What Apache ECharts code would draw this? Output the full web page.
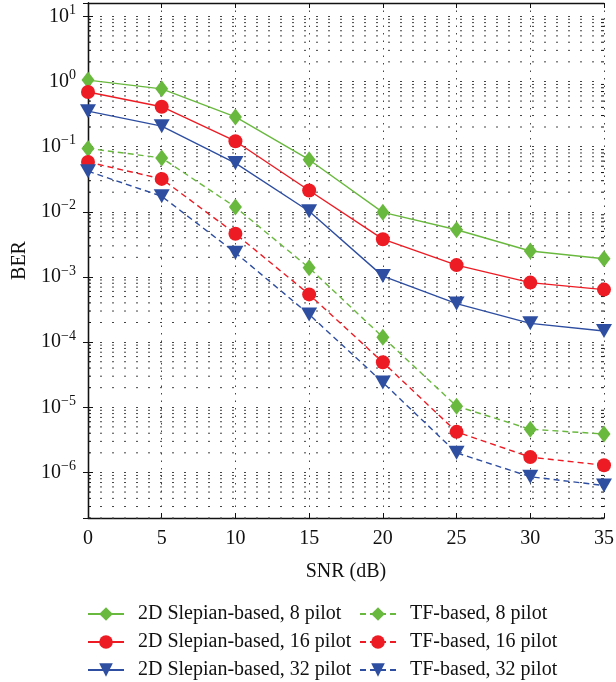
<!DOCTYPE html>
<html>
<head>
<meta charset="utf-8">
<script src="https://cdn.jsdelivr.net/npm/echarts@6/dist/echarts.min.js"></script>
<style>
  html, body { margin: 0; padding: 0; background: #fff; }
  #berChart { width: 616px; height: 682px; }
</style>
</head>
<body>
<div id="berChart"></div>
<script>
  // SNR values (dB)
  const snr = [0, 5, 10, 15, 20, 25, 30, 35];

  // BER
  const slepian8 = [1.05, 0.77, 0.286, 0.063, 0.0098, 0.0053, 0.0025, 0.0019];
  const slepian16 = [0.69, 0.41, 0.121, 0.0212, 0.0038, 0.00152, 0.00082, 0.00064];
  const slepian32 = [0.35, 0.206, 0.056, 0.0102, 0.00103, 0.00039, 0.000194, 0.000148];
  const tf8 = [0.094, 0.067, 0.0118, 0.00138, 0.000119, 1.04e-5, 4.6e-6, 3.9e-6];
  const tf16 = [0.058, 0.032, 0.0046, 0.00054, 4.9e-5, 4.2e-6, 1.72e-6, 1.29e-6];
  const tf32 = [0.042, 0.0173, 0.00235, 0.000266, 2.4e-5, 2.0e-6, 8.6e-7, 6.3e-7];

  const xTicks = [0, 5, 10, 15, 20, 25, 30, 35];
  const yMin = 2e-7, yMax = 16;

  const green = '#6ab93f', red = '#ed1c24', blue = '#2e4ea1';
  const font = '"Liberation Serif", "DejaVu Serif", serif';

  // minor log grid values 2..9 x 10^e inside the axis range
  let minorVals = [];
  for (let e = -7; e <= 1; e++) {
    for (let m = 2; m <= 9; m++) {
      const v = m * Math.pow(10, e);
      if (v >= yMin * 0.999 && v <= yMax) minorVals.push([0, v]);
    }
  }

  function pair(arr) {
    return snr.map((x, i) => [x, arr[i]]);
  }

  function mkLine(name, data, color, symbol, size, dashed) {
    return {
      name: name,
      type: 'line',
      data: pair(data),
      symbol: symbol,
      symbolSize: size,
      symbolRotate: symbol === 'triangle' ? 180 : 0,
      z: 5,
      lineStyle: { color: color, width: 1.4, type: dashed ? [6, 4] : 'solid' },
      itemStyle: { color: color, borderWidth: 0 }
    };
  }

  const legendBase = {
    orient: 'vertical', bottom: 2, padding: 0,
    itemWidth: 36, itemHeight: 17, itemGap: 8,
    textStyle: { fontFamily: font, fontSize: 20, color: '#111', padding: [0, 0, 0, 9] }
  };

  const chart = echarts.init(document.getElementById('berChart'));

  const option = {
    animation: false,
    textStyle: { fontFamily: font },
    grid: { left: 88, right: 12, top: 3, bottom: 164, outerBoundsMode: 'none', containLabel: false },
    legend: [Object.assign({}, legendBase, {
      left: 87,
      data: ['2D Slepian-based, 8 pilot', '2D Slepian-based, 16 pilot', '2D Slepian-based, 32 pilot']
    }), Object.assign({}, legendBase, {
      left: 359,
      data: ['TF-based, 8 pilot', 'TF-based, 16 pilot', 'TF-based, 32 pilot']
    })],
    xAxis: [{
      type: 'value', min: 0, max: 35, interval: 5,
      name: 'SNR (dB)', nameLocation: 'middle', nameGap: 44,
      nameTextStyle: { fontFamily: font, fontSize: 20, color: '#111' },
      axisLine: { lineStyle: { color: '#111', width: 1.3 } },
      axisTick: { inside: true, length: 5, lineStyle: { color: '#111' } },
      axisLabel: { fontFamily: font, fontSize: 20, color: '#111', margin: 11 },
      splitLine: { show: true, lineStyle: { color: '#444', type: [1.5, 6], width: 1 } }
    }, {
      type: 'value', min: 0, max: 35, interval: 5, position: 'top',
      axisLine: { lineStyle: { color: '#111', width: 1.3 } },
      axisTick: { inside: true, length: 5, lineStyle: { color: '#111' } },
      axisLabel: { show: false }, splitLine: { show: false }
    }],
    yAxis: [{
      type: 'log', logBase: 10, min: yMin, max: yMax,
      name: 'BER', nameLocation: 'middle', nameGap: 58,
      nameTextStyle: { fontFamily: font, fontSize: 20, color: '#111' },
      axisLine: { show: true, lineStyle: { color: '#111', width: 1.3 } },
      axisTick: { show: true, inside: true, length: 5, lineStyle: { color: '#111' } },
      axisLabel: {
        showMinLabel: false, showMaxLabel: false, margin: 12,
        fontFamily: font, fontSize: 20, color: '#111',
        formatter: function (v) {
          const e = Math.log10(v);
          if (Math.abs(e - Math.round(e)) > 1e-6) return '';
          const r = Math.round(e);
          return '10{sup|' + (r < 0 ? '\u2212' + (-r) : r) + '}';
        },
        rich: { sup: { fontFamily: font, fontSize: 14, verticalAlign: 'top', padding: [0, 0, 12, 0], color: '#111' } }
      },
      splitLine: { show: true, lineStyle: { color: '#444', type: [2, 10], width: 1 } }
    }, {
      type: 'log', logBase: 10, min: yMin, max: yMax, position: 'right',
      axisLine: { show: true, lineStyle: { color: '#111', width: 1.3 } },
      axisTick: { show: true, inside: true, length: 5, lineStyle: { color: '#111' } },
      axisLabel: { show: false }, splitLine: { show: false }
    }],
    series: [
      {
        name: 'minorGrid',
        type: 'custom',
        silent: true,
        z: 1,
        data: minorVals,
        renderItem: function (params, api) {
          const v = api.value(1);
          const p0 = api.coord([0, v]);
          const p1 = api.coord([35, v]);
          return {
            type: 'group',
            children: [{
              type: 'line',
              shape: { x1: p0[0], y1: p0[1], x2: p1[0], y2: p1[1] },
              style: { stroke: '#444', lineWidth: 1, lineDash: [2, 10] }
            }, {
              type: 'line',
              shape: { x1: p0[0], y1: p0[1], x2: p0[0] + 3, y2: p0[1] },
              style: { stroke: '#111', lineWidth: 1 }
            }, {
              type: 'line',
              shape: { x1: p1[0], y1: p1[1], x2: p1[0] - 3, y2: p1[1] },
              style: { stroke: '#111', lineWidth: 1 }
            }]
          };
        }
      },
      mkLine('2D Slepian-based, 8 pilot', slepian8, green, 'diamond', [13, 17], false),
      mkLine('2D Slepian-based, 16 pilot', slepian16, red, 'circle', 14, false),
      mkLine('2D Slepian-based, 32 pilot', slepian32, blue, 'triangle', [16, 14], false),
      mkLine('TF-based, 8 pilot', tf8, green, 'diamond', [13, 17], true),
      mkLine('TF-based, 16 pilot', tf16, red, 'circle', 14, true),
      mkLine('TF-based, 32 pilot', tf32, blue, 'triangle', [16, 14], true)
    ]
  };

  chart.setOption(option);
</script>
</body>
</html>
